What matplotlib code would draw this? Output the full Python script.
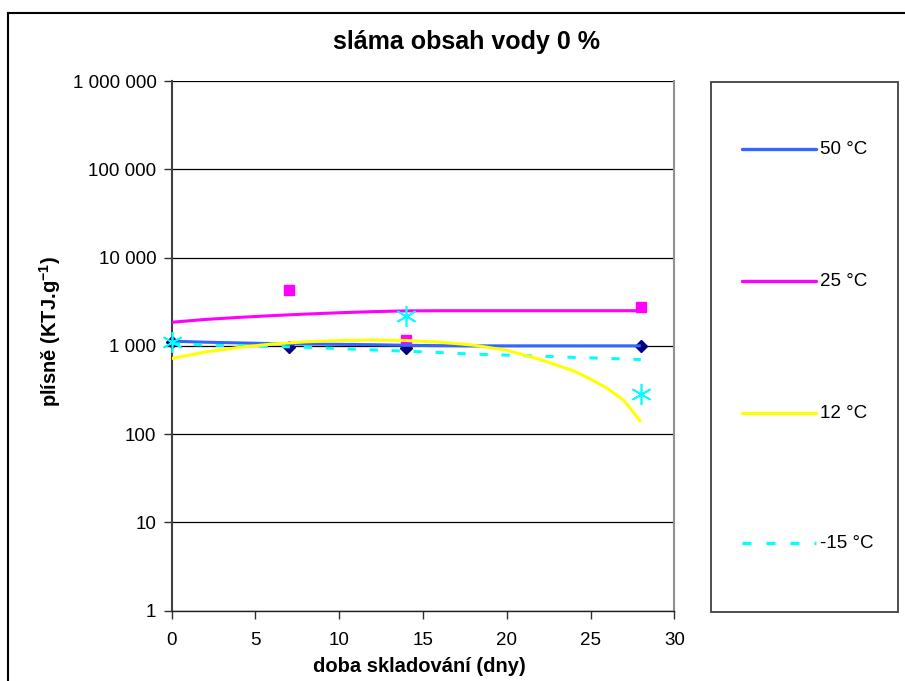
import matplotlib
matplotlib.use("Agg")
import matplotlib.pyplot as plt
from matplotlib.lines import Line2D
from matplotlib.patches import Rectangle
from matplotlib.ticker import FixedLocator, FixedFormatter, NullLocator

plt.rcParams['font.family'] = ['Liberation Sans', 'DejaVu Sans']
plt.rcParams['mathtext.fontset'] = 'custom'
plt.rcParams['mathtext.bf'] = 'Liberation Sans:bold'
plt.rcParams['mathtext.rm'] = 'Liberation Sans:bold'

# ---------------- data ----------------
title = "sláma obsah vody 0 %"
x_label = "doba skladování (dny)"
series_labels = ["50 °C", "25 °C", "12 °C", "-15 °C"]

# measured points
days_50 = [0, 7, 14, 28]
vals_50 = [1100, 960, 950, 1000]
days_25 = [7, 14, 28]
vals_25 = [4250, 1150, 2750]
days_m15 = [0, 14, 28]
vals_m15 = [1100, 2170, 286]

# trend lines
trend_x = [0, 2, 4, 6, 8, 10, 12, 14, 16, 18, 20, 22, 24, 25, 26, 27, 28]
trend_50 = [1130, 1100, 1080, 1060, 1050, 1040, 1030, 1015, 1005, 1000, 1000, 1000, 1000, 1000, 1000, 1000, 1000]
trend_25 = [1850, 1990, 2100, 2200, 2290, 2370, 2440, 2490, 2500, 2500, 2500, 2500, 2500, 2500, 2500, 2500, 2500]
trend_12 = [720, 850, 960, 1050, 1110, 1150, 1165, 1150, 1100, 1020, 890, 700, 520, 420, 330, 240, 138]
trend_m15 = [1060, 1020, 1000, 985, 965, 930, 900, 870, 840, 805, 785, 765, 740, 730, 720, 710, 700]

y_ticks = [1, 10, 100, 1000, 10000, 100000, 1000000]
y_tick_labels = ["1", "10", "100", "1 000", "10 000", "100 000", "1 000 000"]
x_ticks = [0, 5, 10, 15, 20, 25, 30]

# ---------------- figure ----------------
W, H = 905, 681
fig = plt.figure(figsize=(W / 100, H / 100), dpi=100)
fig.patch.set_facecolor('white')

def fx(px):
    return px / W

def fy(py):
    return 1 - py / H

ax_l, ax_r, ax_t, ax_b = 171.7, 674.3, 81.0, 610.7
ax = fig.add_axes([fx(ax_l), fy(ax_b), fx(ax_r) - fx(ax_l), fy(ax_t) - fy(ax_b)])
ax.set_yscale('log')
ax.set_xlim(0, 30)
ax.set_ylim(1, 1000000)

c_blue = '#3366FF'
c_mag = '#FF00FF'
c_yel = '#FFFF00'
c_cyan = '#00FFFF'
c_navy = '#000080'

# markers
ax.plot(days_50, vals_50, linestyle='none', marker='D', ms=6.5, color=c_navy, zorder=3, clip_on=False)
ax.plot(days_25, vals_25, linestyle='none', marker='s', ms=7, color=c_mag, zorder=3, clip_on=False)

# trend lines
lw = 2.2
ax.plot(trend_x, trend_50, color=c_blue, lw=lw, zorder=4, solid_capstyle='butt')
ax.plot(trend_x, trend_25, color=c_mag, lw=lw, zorder=4, solid_capstyle='butt')
ax.plot(trend_x, trend_m15, color=c_cyan, lw=lw, zorder=4, linestyle=(0, (2.7, 4.5)), dash_capstyle='butt')
ax.plot(trend_x, trend_12, color=c_yel, lw=lw, zorder=5, solid_capstyle='butt')

ax.plot(days_m15, vals_m15, linestyle='none', marker=(6, 2, 0), ms=15, mew=1.2,
        color=c_cyan, zorder=6, clip_on=False)

# grid / axes styling
for v in y_ticks:
    ax.axhline(v, color='black', lw=0.9, zorder=1)
ax.yaxis.set_major_locator(FixedLocator(y_ticks))
ax.yaxis.set_major_formatter(FixedFormatter(y_tick_labels))
ax.yaxis.set_minor_locator(NullLocator())
ax.set_xticks(x_ticks)
ax.set_xticklabels([str(t) for t in x_ticks])
ax.tick_params(axis='both', which='major', direction='out', length=6, width=1,
               color='#303030', labelsize=13.5, labelcolor='black')
ax.tick_params(axis='y', pad=5)
ax.tick_params(axis='x', pad=9)

ax.spines['left'].set_color('#404040')
ax.spines['left'].set_linewidth(1.5)
ax.spines['bottom'].set_color('#202020')
ax.spines['bottom'].set_linewidth(1.0)
ax.spines['right'].set_color('#909090')
ax.spines['right'].set_linewidth(1.5)
ax.spines['top'].set_visible(False)

ax.set_xlabel(x_label, fontsize=14.5, fontweight='bold')
ax.xaxis.set_label_coords((419 - ax_l) / (ax_r - ax_l), (ax_b - 667) / (ax_b - ax_t))
ax.xaxis.label.set_va('center')
ax.set_ylabel(r"plísně (KTJ.g$^{\mathbf{-1}}$)", fontsize=14.5, fontweight='bold')
ax.yaxis.set_label_coords((50 - ax_l) / (ax_r - ax_l), (ax_b - 332) / (ax_b - ax_t))
ax.yaxis.label.set_va('center')

fig.text(fx(466), fy(42), title, fontsize=18, fontweight='bold', ha='center', va='center')

# outer chart border (left and top visible)
fig.add_artist(Line2D([fx(8), fx(8)], [fy(13), fy(700)], color='black', lw=1.5))
fig.add_artist(Line2D([fx(8), fx(930)], [fy(13), fy(13)], color='black', lw=1.5))

# legend box
fig.add_artist(Rectangle((fx(711), fy(612)), fx(898) - fx(711), fy(82) - fy(612),
                         fill=False, edgecolor='#404040', lw=1.3))
leg_colors = [c_blue, c_mag, c_yel, c_cyan]
leg_styles = ['-', '-', '-', (0, (2.7, 4.5))]
leg_y = [149, 281, 413, 543]
for lab, col, st, yy in zip(series_labels, leg_colors, leg_styles, leg_y):
    fig.add_artist(Line2D([fx(742), fx(816)], [fy(yy), fy(yy)], color=col, lw=2.4,
                          linestyle=st, solid_capstyle='round', dash_capstyle='butt'))
    fig.text(fx(820), fy(yy), lab, fontsize=13.5, ha='left', va='center')

fig.savefig('out.png', dpi=100)
